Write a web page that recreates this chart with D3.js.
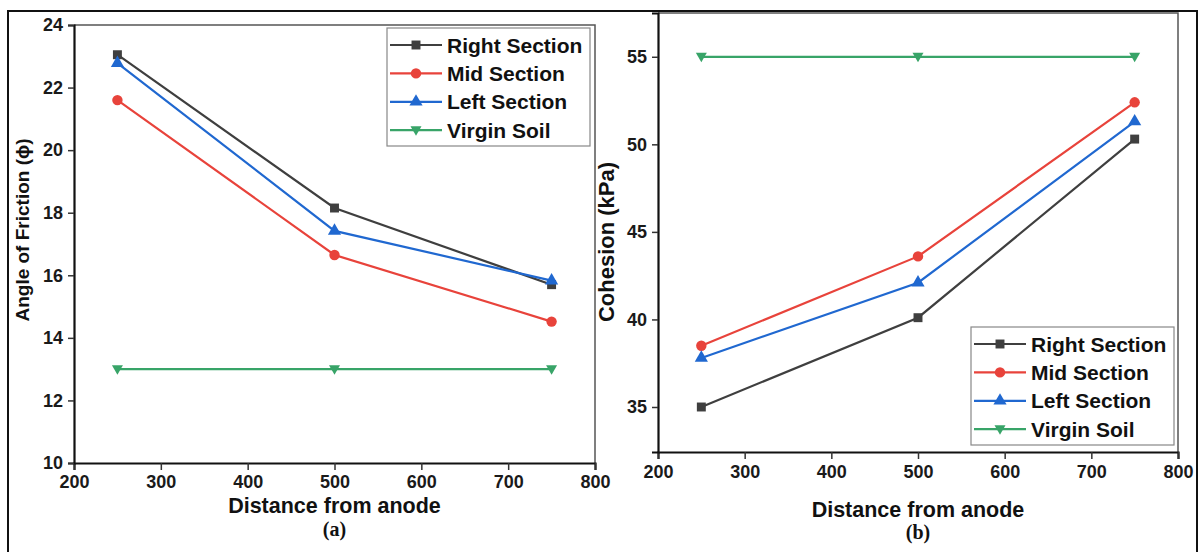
<!DOCTYPE html>
<html>
<head>
<meta charset="utf-8">
<script src="https://cdn.jsdelivr.net/npm/d3@7"></script>
<style>
  body { margin: 0; background: #fff; }
  svg text { font-family: "Liberation Sans", Arial, sans-serif; font-weight: bold; }
</style>
</head>
<body>
<svg id="chart" width="1201" height="552"></svg>
<script>
// distances (x values)
var distances = [250, 500, 750];
var seriesNames = ["Right Section", "Mid Section", "Left Section", "Virgin Soil"];
var seriesColors = ["#3f3f3f", "#e8433b", "#2068d0", "#38a468"];
var seriesShapes = ["square", "circle", "triangle", "triangleDown"];

// (a) angle of friction
var frictionRight = [23.05, 18.15, 15.7];
var frictionMid = [21.6, 16.65, 14.52];
var frictionLeft = [22.78, 17.42, 15.83];
var frictionVirgin = [13, 13, 13];
var frictionTicks = [10, 12, 14, 16, 18, 20, 22, 24];

// (b) cohesion
var cohesionRight = [35.0, 40.1, 50.3];
var cohesionMid = [38.5, 43.6, 52.4];
var cohesionLeft = [37.8, 42.1, 51.3];
var cohesionVirgin = [55, 55, 55];
var cohesionTicks = [35, 40, 45, 50, 55];

var xTicks = [200, 300, 400, 500, 600, 700, 800];

var svg = d3.select("#chart");

// outer frame
svg.append("rect")
  .attr("x", 8).attr("y", 11)
  .attr("width", 1189).attr("height", 560)
  .attr("fill", "none").attr("stroke", "#111").attr("stroke-width", 2);

function drawPanel(opt) {
  var x = d3.scaleLinear().domain([200, 800]).range([opt.left, opt.right]);
  var y = d3.scaleLinear().domain(opt.yDomain).range([opt.bottom, opt.top]);
  var g = svg.append("g");

  // box (top + right)
  g.append("path")
    .attr("d", "M" + opt.left + "," + opt.top + "H" + opt.right + "V" + opt.bottom)
    .attr("fill", "none").attr("stroke", "#555").attr("stroke-width", 1.5);

  var xAxis = g.append("g")
    .attr("transform", "translate(0," + opt.bottom + ")")
    .call(d3.axisBottom(x).tickValues(xTicks).tickSize(7).tickPadding(opt.xPad));
  var yAxis = g.append("g")
    .attr("transform", "translate(" + opt.left + ",0)")
    .call(d3.axisLeft(y).tickValues(opt.yTicks).tickSize(6).tickPadding(5));
  [xAxis, yAxis].forEach(function(a) {
    a.select(".domain").attr("stroke", "#111").attr("stroke-width", 2.2);
    a.selectAll(".tick line").attr("stroke", "#333").attr("stroke-width", 1.5);
    a.selectAll(".tick text").attr("fill", "#1a1a1a")
      .style("font-size", "18px");
  });

  // axis titles
  g.append("text")
    .attr("x", (opt.left + opt.right) / 2).attr("y", opt.titleY)
    .attr("text-anchor", "middle").attr("font-size", 21.5).attr("fill", "#111")
    .text("Distance from anode");
  g.append("text")
    .attr("transform", "translate(" + opt.yLabelX + "," + opt.yLabelY + ") rotate(-90)")
    .attr("text-anchor", "middle").attr("font-size", opt.yLabelSize).attr("fill", "#111")
    .text(opt.yLabel);
  g.append("text")
    .attr("x", (opt.left + opt.right) / 2).attr("y", opt.capY)
    .attr("text-anchor", "middle").attr("font-size", 20).attr("fill", "#111")
    .style("font-family", "Liberation Serif, Times New Roman, serif")
    .text(opt.caption);

  var line = d3.line().x(function(d) { return x(d[0]); }).y(function(d) { return y(d[1]); });

  opt.series.forEach(function(vals, i) {
    var pts = distances.map(function(d, j) { return [d, vals[j]]; });
    g.append("path").datum(pts)
      .attr("d", line).attr("fill", "none")
      .attr("stroke", seriesColors[i]).attr("stroke-width", 2.2);
    g.selectAll(".m" + i).data(pts).enter().append("path")
      .attr("transform", function(d) { return "translate(" + x(d[0]) + "," + y(d[1]) + ")"; })
      .attr("d", marker(seriesShapes[i]))
      .attr("fill", seriesColors[i]);
  });

  // legend
  var lg = g.append("g").attr("transform", "translate(" + opt.legX + "," + opt.legY + ")");
  lg.append("rect").attr("width", 203).attr("height", 118)
    .attr("fill", "#fff").attr("stroke", "#888").attr("stroke-width", 1.2);
  seriesNames.forEach(function(name, i) {
    var yy = 17 + i * 28.4;
    lg.append("line").attr("x1", 3).attr("x2", 55).attr("y1", yy).attr("y2", yy)
      .attr("stroke", seriesColors[i]).attr("stroke-width", 2.2);
    lg.append("path").attr("transform", "translate(29," + yy + ")")
      .attr("d", marker(seriesShapes[i])).attr("fill", seriesColors[i]);
    lg.append("text").attr("x", 60).attr("y", yy + 7.5)
      .attr("font-size", 21).attr("fill", "#111").text(name);
  });
}

function marker(shape) {
  if (shape === "square") return d3.symbol(d3.symbolSquare, 80)();
  if (shape === "circle") return d3.symbol(d3.symbolCircle, 85)();
  if (shape === "triangle") return d3.symbol(d3.symbolTriangle, 75)();
  return "M-5.5,-4L5.5,-4L0,5.5Z";
}

drawPanel({
  left: 74, right: 595, top: 25, bottom: 463,
  yDomain: [10, 24], yTicks: frictionTicks,
  yLabel: "Angle of Friction (\u03D5)", yLabelX: 29, yLabelY: 230, yLabelSize: 19,
  xPad: 5, titleY: 513, caption: "(a)", capY: 536,
  series: [frictionRight, frictionMid, frictionLeft, frictionVirgin],
  legX: 387, legY: 28
});

drawPanel({
  left: 658, right: 1178, top: 13, bottom: 452,
  yDomain: [32.43, 57.5], yTicks: cohesionTicks,
  yLabel: "Cohesion (kPa)", yLabelX: 614, yLabelY: 242, yLabelSize: 22,
  xPad: 6, titleY: 517, caption: "(b)", capY: 539,
  series: [cohesionRight, cohesionMid, cohesionLeft, cohesionVirgin],
  legX: 971, legY: 327
});
</script>
</body>
</html>
